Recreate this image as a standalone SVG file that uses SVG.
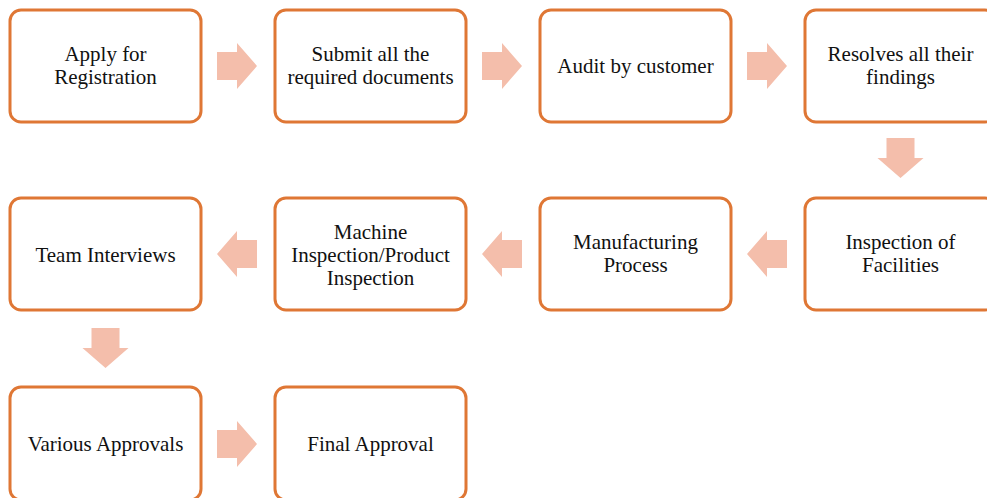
<svg xmlns="http://www.w3.org/2000/svg" width="987" height="498" viewBox="0 0 987 498">
<style>
.box{fill:#fff;stroke:#DF7735;stroke-width:3}
.arr{fill:#F4BEAB;stroke:none}
text{font-family:"Liberation Serif","Times New Roman",serif;font-size:21px;fill:#111;text-anchor:middle}
</style>
<rect width="987" height="498" fill="#fff"/>
<g id="connectors">
<path class="arr" d="M217,52H237V43L257,66L237,89V80H217Z"/>
<path class="arr" d="M482,52H502V43L522,66L502,89V80H482Z"/>
<path class="arr" d="M747,52H767V43L787,66L767,89V80H747Z"/>
<path class="arr" d="M886.5,138V158H877.5L900.5,178L923.5,158H914.5V138Z"/>
<path class="arr" d="M787,240V268H767V277L747,254L767,231V240Z"/>
<path class="arr" d="M522,240V268H502V277L482,254L502,231V240Z"/>
<path class="arr" d="M257,240V268H237V277L217,254L237,231V240Z"/>
<path class="arr" d="M91.5,328V348H82.5L105.5,368L128.5,348H119.5V328Z"/>
<path class="arr" d="M217,430H237V421L257,444L237,467V458H217Z"/>
</g>
<g id="n1"><rect class="box" x="10" y="10" width="191" height="112" rx="11"/><text x="105.5" y="60.5">Apply for</text><text x="105.5" y="83.5">Registration</text></g>
<g id="n2"><rect class="box" x="275" y="10" width="191" height="112" rx="11"/><text x="370.5" y="60.5">Submit all the</text><text x="370.5" y="83.5">required documents</text></g>
<g id="n3"><rect class="box" x="540" y="10" width="191" height="112" rx="11"/><text x="635.5" y="73">Audit by customer</text></g>
<g id="n4"><rect class="box" x="805" y="10" width="191" height="112" rx="11"/><text x="900.5" y="60.5">Resolves all their</text><text x="900.5" y="83.5">findings</text></g>
<g id="n5"><rect class="box" x="805" y="198" width="191" height="112" rx="11"/><text x="900.5" y="249">Inspection of</text><text x="900.5" y="272">Facilities</text></g>
<g id="n6"><rect class="box" x="540" y="198" width="191" height="112" rx="11"/><text x="635.5" y="249">Manufacturing</text><text x="635.5" y="272">Process</text></g>
<g id="n7"><rect class="box" x="275" y="198" width="191" height="112" rx="11"/><text x="370.5" y="238.5">Machine</text><text x="370.5" y="261.5">Inspection/Product</text><text x="370.5" y="284.5">Inspection</text></g>
<g id="n8"><rect class="box" x="10" y="198" width="191" height="112" rx="11"/><text x="105.5" y="261.5">Team Interviews</text></g>
<g id="n9"><rect class="box" x="10" y="387" width="191" height="113" rx="11"/><text x="105.5" y="451">Various Approvals</text></g>
<g id="n10"><rect class="box" x="275" y="387" width="191" height="113" rx="11"/><text x="370.5" y="451">Final Approval</text></g>
</svg>
